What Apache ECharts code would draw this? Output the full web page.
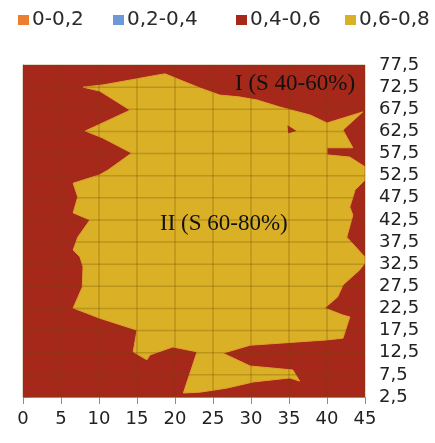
<!DOCTYPE html>
<html>
<head>
<meta charset="utf-8">
<script src="https://cdn.jsdelivr.net/npm/echarts@6/dist/echarts.min.js"></script>
<style>
  html, body { margin: 0; padding: 0; background: #ffffff; }
  #chart { width: 435px; height: 443px; }
</style>
</head>
<body>
<div id="chart"></div>
<script>
// Range classes of the surface (legend entries)
const rangeNames = ['0-0,2', '0,2-0,4', '0,4-0,6', '0,6-0,8'];
const rangeColors = ['#ED7D31', '#6F98D8', '#A5281B', '#D9B026'];

// Axis extents and tick positions
const xRange = [0, 45];
const yRange = [2.5, 77.5];
const xTicks = [0, 5, 10, 15, 20, 25, 30, 35, 40, 45];
const yTicks = [2.5, 7.5, 12.5, 17.5, 22.5, 27.5, 32.5, 37.5, 42.5, 47.5, 52.5, 57.5, 62.5, 67.5, 72.5, 77.5];

// Outline of the 0,6-0,8 zone (zone II), x and y in axis units
const zoneIIx = [7.9, 10.5, 14.1, 17.6, 18.7, 20.7, 23.3, 25.9, 28.4, 30.8, 33.8, 37.8, 40.0, 44.7, 42.1, 43.4, 40.0, 40.0, 43.0, 45.0,
                 45.0, 43.7, 43.0, 43.4, 42.6, 45.0, 45.0, 44.3, 42.1, 41.4, 39.7, 42.1, 43.0, 42.1, 40.0, 29.9, 26.3, 29.9, 35.5, 36.4,
                 35.1, 30.3, 26.8, 23.3, 21.1, 22.9, 19.7, 16.7, 16.3, 14.5, 15.0, 10.1, 6.6, 7.8, 7.9, 7.5, 6.6, 7.2, 8.8, 6.6,
                 7.2, 6.6, 10.1, 11.2, 14.3, 10.5, 8.2, 14.1, 10.1];
const zoneIIy = [72.5, 73.0, 74.1, 75.2, 75.5, 74.1, 72.3, 70.7, 70.3, 69.6, 68.0, 66.2, 64.4, 66.9, 62.8, 58.8, 58.8, 57.2, 56.7, 54.5,
                 51.5, 49.3, 45.4, 43.6, 38.6, 34.1, 32.8, 31.2, 27.8, 25.1, 22.6, 21.0, 20.6, 15.8, 15.4, 14.2, 12.4, 9.5, 8.6, 6.1,
                 6.8, 5.9, 4.5, 3.6, 3.4, 12.7, 13.8, 12.0, 10.9, 12.7, 17.6, 20.3, 22.6, 27.3, 31.9, 34.1, 35.7, 38.6, 42.5, 44.1,
                 47.7, 50.8, 52.7, 53.8, 57.6, 61.0, 62.6, 67.3, 71.6];

// Small 0,4-0,6 pocket inside zone II
const pocketX = [34.8, 36.0, 34.9];
const pocketY = [63.9, 62.6, 62.1];

// Zone annotations
const zoneLabels = ['I (S 40-60%)', 'II (S 60-80%)'];

function toPoints(api, xs, ys) {
  return xs.map(function (x, i) { return api.coord([x, ys[i]]); });
}

const chart = echarts.init(document.getElementById('chart'), null, { renderer: 'canvas' });

const legendLefts = [13, 108, 231, 340];
const gridLineStyle = { stroke: 'rgba(110,75,0,0.28)', lineWidth: 1.5 };

// Grid lines drawn over the surface: one item per tick, [axis, value]
const gridItems = xTicks.map(function (v) { return [0, v]; })
  .concat(yTicks.map(function (v) { return [1, v]; }));

const option = {
  backgroundColor: '#ffffff',
  animation: false,
  textStyle: { fontFamily: 'DejaVu Sans' },
  legend: rangeNames.map(function (name, i) {
    return {
      data: [name],
      left: legendLefts[i],
      top: 5,
      icon: 'rect',
      itemWidth: 11,
      itemHeight: 10,
      itemGap: 4,
      selectedMode: false,
      textStyle: { fontSize: 20, color: '#2a2a2a', fontFamily: 'DejaVu Sans', padding: [0, 0, 0, -2] }
    };
  }),
  grid: { left: 23, right: 70, top: 65, bottom: 46, containLabel: false },
  xAxis: {
    type: 'value',
    min: xRange[0],
    max: xRange[1],
    interval: 5,
    axisLine: { show: true, lineStyle: { color: '#a0a0a0', width: 1 } },
    axisTick: { show: true, length: 7, lineStyle: { color: '#8c8c8c' } },
    axisLabel: { fontSize: 18, color: '#222', margin: 13, fontFamily: 'DejaVu Sans' },
    splitLine: { show: false }
  },
  yAxis: {
    type: 'value',
    position: 'right',
    min: yRange[0],
    max: yRange[1],
    interval: 5,
    axisLine: { show: true, lineStyle: { color: '#a0a0a0', width: 1 } },
    axisTick: { show: true, length: 7, lineStyle: { color: '#8c8c8c' } },
    axisLabel: {
      fontSize: 18, color: '#222', margin: 14, fontFamily: 'DejaVu Sans',
      formatter: function (v) { return String(v).replace('.', ','); }
    },
    splitLine: { show: false }
  },
  series: [
    { name: rangeNames[0], type: 'custom', data: [], itemStyle: { color: rangeColors[0] }, renderItem: function () { return null; } },
    { name: rangeNames[1], type: 'custom', data: [], itemStyle: { color: rangeColors[1] }, renderItem: function () { return null; } },
    {
      name: rangeNames[2],
      type: 'custom',
      z: 1,
      clip: true,
      itemStyle: { color: rangeColors[2] },
      data: [[xRange[0], yRange[0], xRange[1], yRange[1]]],
      renderItem: function (params, api) {
        const p0 = api.coord([api.value(0), api.value(1)]);
        const p1 = api.coord([api.value(2), api.value(3)]);
        return {
          type: 'rect',
          shape: { x: p0[0], y: p1[1], width: p1[0] - p0[0], height: p0[1] - p1[1] },
          style: { fill: rangeColors[2] }
        };
      }
    },
    {
      name: rangeNames[3],
      type: 'custom',
      z: 2,
      clip: true,
      itemStyle: { color: rangeColors[3] },
      data: [[0]],
      renderItem: function (params, api) {
        return {
          type: 'group',
          children: [
            {
              type: 'polygon',
              shape: { points: toPoints(api, zoneIIx, zoneIIy) },
              style: { fill: rangeColors[3], stroke: '#E2A12E', lineWidth: 1 }
            },
            {
              type: 'polygon',
              shape: { points: toPoints(api, pocketX, pocketY) },
              style: { fill: rangeColors[2] }
            }
          ]
        };
      }
    },
    {
      type: 'custom',
      z: 3,
      silent: true,
      data: gridItems,
      renderItem: function (params, api) {
        const axis = api.value(0);
        const v = api.value(1);
        let a, b;
        if (axis === 0) {
          a = api.coord([v, yRange[0]]);
          b = api.coord([v, yRange[1]]);
        } else {
          a = api.coord([xRange[0], v]);
          b = api.coord([xRange[1], v]);
        }
        return {
          type: 'line',
          shape: { x1: a[0], y1: a[1], x2: b[0], y2: b[1] },
          style: gridLineStyle
        };
      }
    }
  ],
  graphic: [
    {
      type: 'text', left: 235, top: 72, z: 10,
      style: { text: zoneLabels[0], font: '23px "Liberation Serif"', fill: '#111' }
    },
    {
      type: 'text', left: 160, top: 212, z: 10,
      style: { text: zoneLabels[1], font: '23px "Liberation Serif"', fill: '#111' }
    }
  ]
};

chart.setOption(option);
</script>
</body>
</html>
